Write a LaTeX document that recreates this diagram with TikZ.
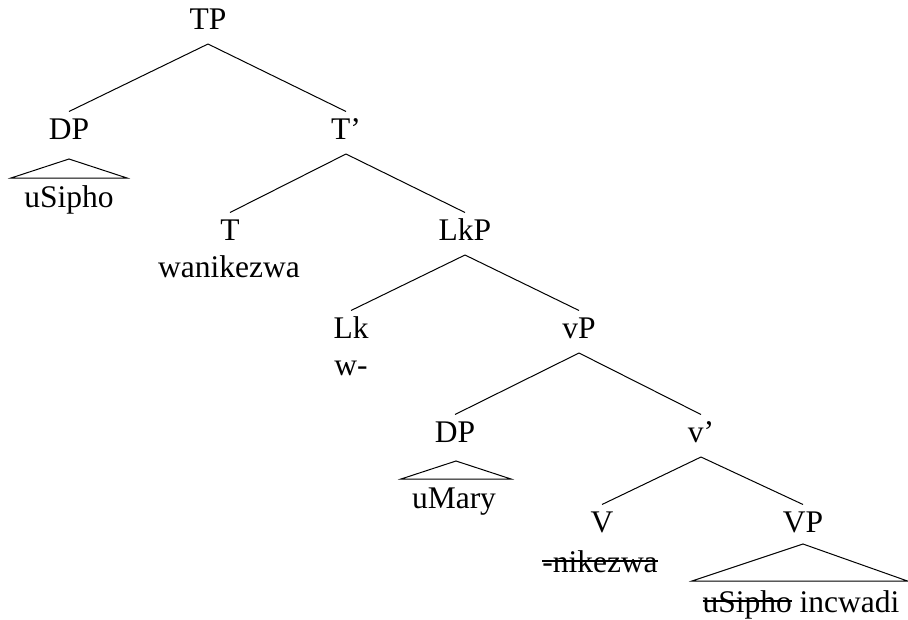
\documentclass[tikz,border=0pt]{standalone}
\usepackage{fontspec}
\setmainfont{Liberation Serif}
\usepackage{tikz}
\newsavebox{\strkbox}
\newcommand{\strk}[1]{\sbox{\strkbox}{#1}\rlap{\rule[10.5pt]{\wd\strkbox}{1.2pt}}\usebox{\strkbox}}

\begin{document}
\begin{tikzpicture}[x=1pt,y=-1pt,line width=1pt]
\tikzstyle{every node}=[font=\fontsize{31.5}{36}\selectfont,anchor=base,inner sep=0pt]
\tikzstyle{cat}=[inner ysep=6pt,text height=21pt,text depth=8.5pt]
\useasboundingbox (0,0) rectangle (908,619);
% categories
\node[cat](tp) at (208,29){TP};
\node[cat](dpa) at (69,139){DP};
\node[cat](tbar) at (346,139){T'};
\node[cat](t) at (230,240){T};
\node[cat](lkp) at (465,240){LkP};
\node[cat](lk) at (351,338){Lk};
\node[cat](vp) at (579,338){vP};
\node[cat](dpb) at (455,442){DP};
\node[cat](vbar) at (701,442){v'};
\node[cat](v) at (602,532){V};
\node[cat](vpb) at (803,532){VP};
% words
\node(usipho) at (69,207){uSipho};
\node(wanikezwa) at (229,277){wanikezwa};
\node(w) at (351,375){w-};
\node(umary) at (454,508){uMary};
\node(nikezwa) at (600,572){\strk{-nikezwa}};
\node(incwadi) at (801,612){\strk{uSipho} incwadi};
% branches
\foreach \a/\b in {tp/dpa,tp/tbar,tbar/t,tbar/lkp,lkp/lk,lkp/vp,vp/dpb,vp/vbar,vbar/v,vbar/vpb}
  \draw(\a.south)--(\b.north);
% triangles
\draw(69,159)--(11,178)--(127,178)--cycle;
\draw(456,461)--(401,479)--(511,479)--cycle;
\draw(803,544)--(692,581)--(907.5,581)--cycle;
\end{tikzpicture}
\end{document}
